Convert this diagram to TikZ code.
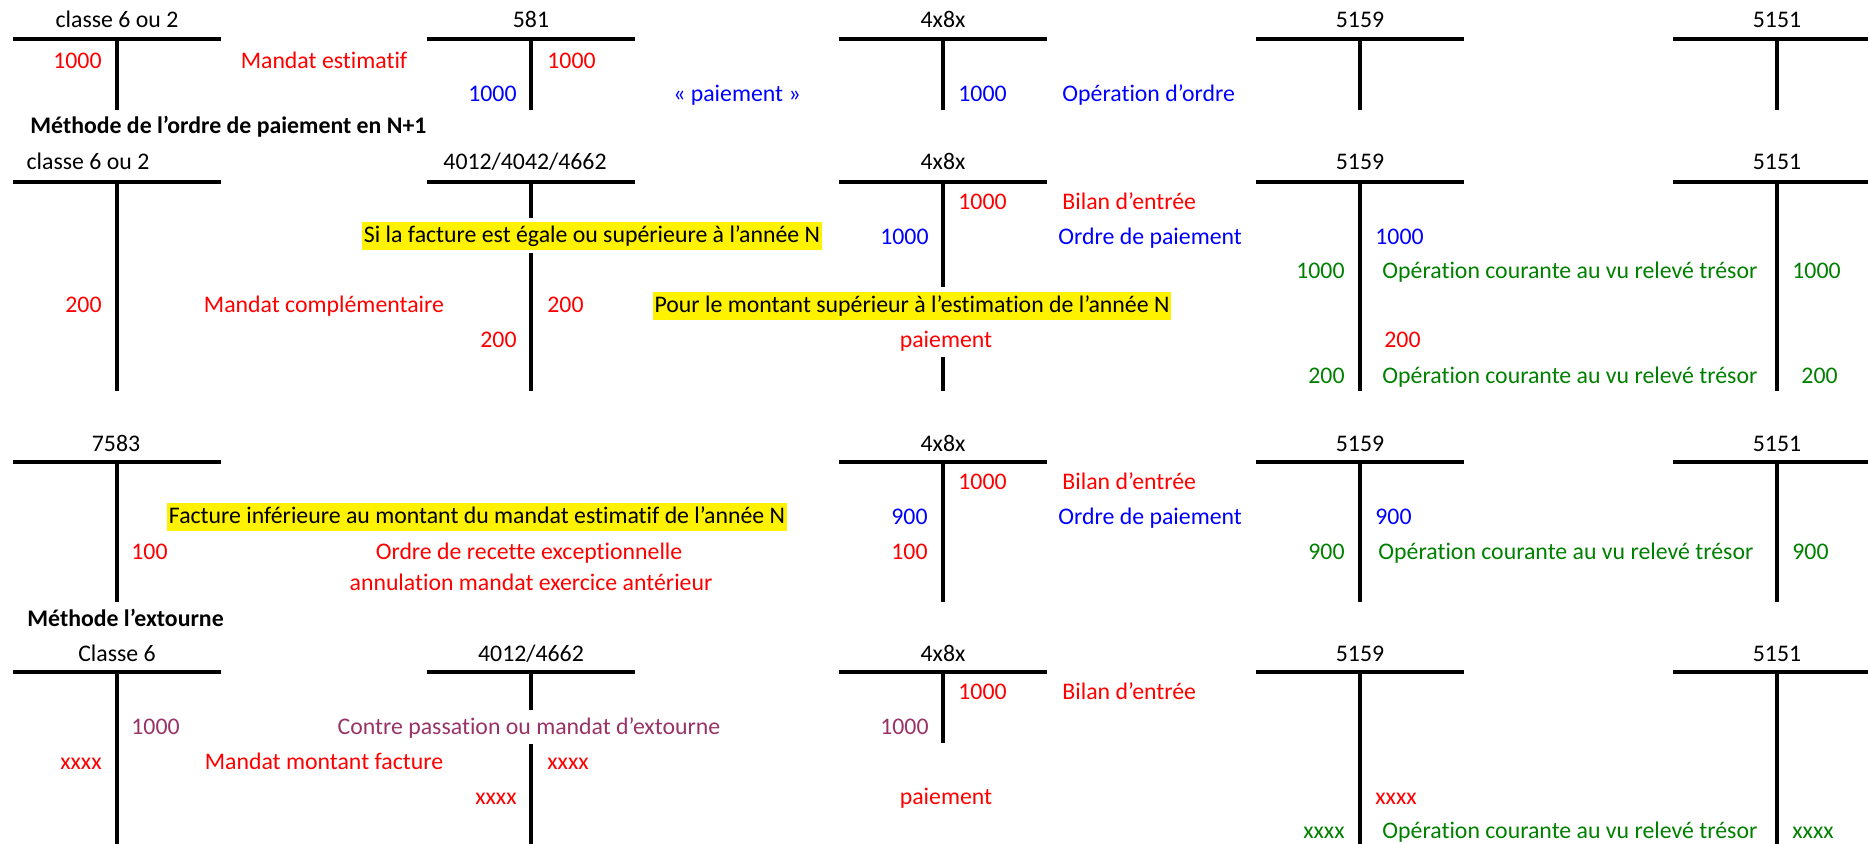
\documentclass[tikz,border=0pt]{standalone}
\usepackage{fontspec}
\setmainfont{Carlito}[Ligatures=NoCommon]
\definecolor{rouge}{RGB}{255,0,0}
\definecolor{bleu}{RGB}{0,0,255}
\definecolor{vert}{RGB}{0,128,0}
\definecolor{prune}{RGB}{153,51,102}
\tikzstyle{compte} = [line width=2pt]
\tikzstyle{txt} = [inner sep=0pt, text height=8.8pt, text depth=2.4pt, font=\fontsize{11.9}{14}\selectfont]
\tikzstyle{surligne} = [txt, fill=yellow, inner xsep=1pt, inner ysep=1.6pt]
\tikzstyle{titre} = [txt, anchor=west, font=\bfseries\fontsize{11.9}{14}\selectfont]

\begin{document}
\begin{tikzpicture}[x=0.5pt, y=-0.5pt]
    \useasboundingbox (0,0) rectangle (1868,844);
    % estimation en N
    \draw[compte] (13,39) -- (221,39);
    \draw[compte] (427,39) -- (635,39);
    \draw[compte] (839,39) -- (1047,39);
    \draw[compte] (1256,39) -- (1464,39);
    \draw[compte] (1673,39) -- (1868,39);
    \draw[compte] (117,39) -- (117,110);
    \draw[compte] (531,39) -- (531,110);
    \draw[compte] (943,39) -- (943,110);
    \draw[compte] (1360,39) -- (1360,110);
    \draw[compte] (1777,39) -- (1777,110);
    \node[txt] (classeA) at (117,21) {classe 6 ou 2};
    \node[txt] (cpt581) at (531,21) {581};
    \node[txt] (attenteA) at (943,21) {4x8x};
    \node[txt] (tresA) at (1360,21) {5159};
    \node[txt] (banqueA) at (1777,21) {5151};
    \node[txt, rouge, anchor=east] (mdtA) at (102,62) {1000};
    \node[txt, rouge] (mandatEst) at (324,62) {Mandat estimatif};
    \node[txt, rouge, anchor=west] (mdtB) at (547,62) {1000};
    \node[txt, bleu, anchor=east] (payA) at (517,95) {1000};
    \node[txt, bleu] (paiementA) at (737,95) {« paiement »};
    \node[txt, bleu, anchor=west] (payB) at (958,95) {1000};
    \node[txt, bleu, anchor=west] (opOrdre) at (1062,95) {Opération d’ordre};

    \node[titre] (methodeA) at (30,127) {Méthode de l’ordre de paiement en N+1};

    % ordre de paiement en N+1
    \draw[compte] (13,182) -- (221,182);
    \draw[compte] (427,182) -- (635,182);
    \draw[compte] (839,182) -- (1047,182);
    \draw[compte] (1256,182) -- (1464,182);
    \draw[compte] (1673,182) -- (1868,182);
    \draw[compte] (117,182) -- (117,391);
    \draw[compte] (531,182) -- (531,218);
    \draw[compte] (531,253) -- (531,391);
    \draw[compte] (943,182) -- (943,287);
    \draw[compte] (943,357) -- (943,391);
    \draw[compte] (1360,182) -- (1360,391);
    \draw[compte] (1777,182) -- (1777,391);
    \node[txt] (classeB) at (88,163) {classe 6 ou 2};
    \node[txt] (fournB) at (525,163) {4012/4042/4662};
    \node[txt] (attenteB) at (943,163) {4x8x};
    \node[txt] (tresB) at (1360,163) {5159};
    \node[txt] (banqueB) at (1777,163) {5151};
    \node[txt, rouge, anchor=west] (bilB) at (958,203) {1000};
    \node[txt, rouge, anchor=west] (bilanB) at (1062,203) {Bilan d’entrée};
    \node[surligne] (siFacture) at (592,236) {Si la facture est égale ou supérieure à l’année N};
    \node[txt, bleu, anchor=east] (ordB) at (929,238) {1000};
    \node[txt, bleu, anchor=west] (ordreB) at (1058,238) {Ordre de paiement};
    \node[txt, bleu, anchor=west] (ordC) at (1375,238) {1000};
    \node[txt, vert, anchor=east] (opB) at (1345,272) {1000};
    \node[txt, vert, anchor=west] (courantB) at (1382,272) {Opération courante au vu relevé trésor};
    \node[txt, vert, anchor=west] (opC) at (1792,272) {1000};
    \node[txt, rouge, anchor=east] (compB) at (102,306) {200};
    \node[txt, rouge] (mandatComp) at (324,306) {Mandat complémentaire};
    \node[txt, rouge, anchor=west] (compC) at (547,306) {200};
    \node[surligne] (pourMontant) at (912,306) {Pour le montant supérieur à l’estimation de l’année N};
    \node[txt, rouge, anchor=east] (payC) at (517,341) {200};
    \node[txt, rouge] (paiementB) at (946,341) {paiement};
    \node[txt, rouge, anchor=east] (payD) at (1421,341) {200};
    \node[txt, vert, anchor=east] (opD) at (1345,377) {200};
    \node[txt, vert, anchor=west] (courantC) at (1382,377) {Opération courante au vu relevé trésor};
    \node[txt, vert, anchor=east] (opE) at (1838,377) {200};

    % facture inferieure
    \draw[compte] (13,462) -- (221,462);
    \draw[compte] (839,462) -- (1047,462);
    \draw[compte] (1256,462) -- (1464,462);
    \draw[compte] (1673,462) -- (1868,462);
    \draw[compte] (117,462) -- (117,602);
    \draw[compte] (943,462) -- (943,602);
    \draw[compte] (1360,462) -- (1360,602);
    \draw[compte] (1777,462) -- (1777,602);
    \node[txt] (produitC) at (116,445) {7583};
    \node[txt] (attenteC) at (943,445) {4x8x};
    \node[txt] (tresC) at (1360,445) {5159};
    \node[txt] (banqueC) at (1777,445) {5151};
    \node[txt, rouge, anchor=west] (bilD) at (958,483) {1000};
    \node[txt, rouge, anchor=west] (bilanC) at (1062,483) {Bilan d’entrée};
    \node[surligne] (factInf) at (477,517) {Facture inférieure au montant du mandat estimatif de l’année N};
    \node[txt, bleu, anchor=east] (ordD) at (928,518) {900};
    \node[txt, bleu, anchor=west] (ordreC) at (1058,518) {Ordre de paiement};
    \node[txt, bleu, anchor=west] (ordE) at (1375,518) {900};
    \node[txt, rouge, anchor=west] (recA) at (131,553) {100};
    \node[txt, rouge] (ordreRecette) at (529,553) {Ordre de recette exceptionnelle};
    \node[txt, rouge, anchor=east] (recB) at (928,553) {100};
    \node[txt, vert, anchor=east] (opF) at (1345,553) {900};
    \node[txt, vert, anchor=west] (courantD) at (1378,553) {Opération courante au vu relevé trésor};
    \node[txt, vert, anchor=west] (opG) at (1792,553) {900};
    \node[txt, rouge] (annulation) at (531,584) {annulation mandat exercice antérieur};

    \node[titre] (methodeB) at (27,620) {Méthode l’extourne};

    % extourne
    \draw[compte] (13,672) -- (221,672);
    \draw[compte] (427,672) -- (635,672);
    \draw[compte] (839,672) -- (1047,672);
    \draw[compte] (1256,672) -- (1464,672);
    \draw[compte] (1673,672) -- (1868,672);
    \draw[compte] (117,672) -- (117,844);
    \draw[compte] (531,672) -- (531,710);
    \draw[compte] (531,744) -- (531,844);
    \draw[compte] (943,672) -- (943,743);
    \draw[compte] (1360,672) -- (1360,844);
    \draw[compte] (1777,672) -- (1777,844);
    \node[txt] (classeD) at (117,655) {Classe 6};
    \node[txt] (fournD) at (531,655) {4012/4662};
    \node[txt] (attenteD) at (943,655) {4x8x};
    \node[txt] (tresD) at (1360,655) {5159};
    \node[txt] (banqueD) at (1777,655) {5151};
    \node[txt, rouge, anchor=west] (bilE) at (958,693) {1000};
    \node[txt, rouge, anchor=west] (bilanD) at (1062,693) {Bilan d’entrée};
    \node[txt, prune, anchor=west] (extA) at (131,728) {1000};
    \node[txt, prune] (contrePass) at (529,728) {Contre passation ou mandat d’extourne};
    \node[txt, prune, anchor=east] (extB) at (929,728) {1000};
    \node[txt, rouge, anchor=east] (factA) at (102,763) {xxxx};
    \node[txt, rouge] (mandatFact) at (324,763) {Mandat montant facture};
    \node[txt, rouge, anchor=west] (factB) at (547,763) {xxxx};
    \node[txt, rouge, anchor=east] (payE) at (517,798) {xxxx};
    \node[txt, rouge] (paiementC) at (946,798) {paiement};
    \node[txt, rouge, anchor=west] (payF) at (1375,798) {xxxx};
    \node[txt, vert, anchor=east] (opH) at (1345,832) {xxxx};
    \node[txt, vert, anchor=west] (courantE) at (1382,832) {Opération courante au vu relevé trésor};
    \node[txt, vert, anchor=west] (opI) at (1792,832) {xxxx};
\end{tikzpicture}
\end{document}
